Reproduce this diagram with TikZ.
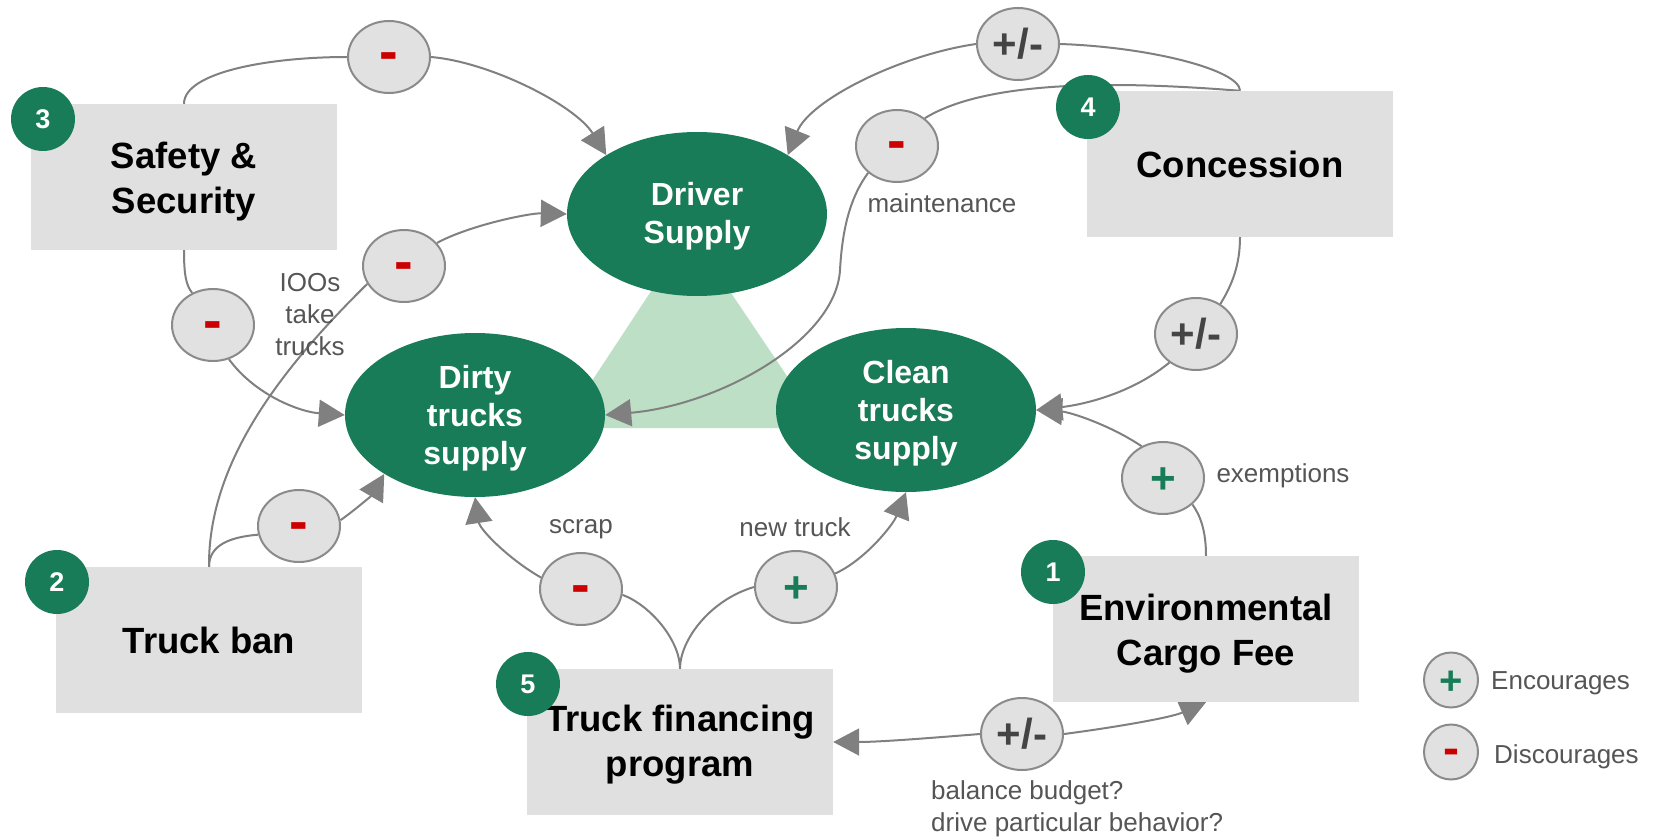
\documentclass[tikz,border=0pt]{standalone}
\usepackage{fontspec}
\setmainfont{Liberation Sans}
\usetikzlibrary{shapes.geometric,arrows.meta}
\definecolor{dgreen}{RGB}{24,124,88}
\definecolor{lgreen}{RGB}{189,223,198}
\definecolor{boxgray}{RGB}{224,224,224}
\definecolor{cfill}{RGB}{225,225,225}
\definecolor{cborder}{RGB}{138,138,138}
\definecolor{lgray}{RGB}{128,128,128}
\definecolor{sred}{RGB}{204,0,0}
\definecolor{pmgray}{RGB}{68,68,68}
\definecolor{lblgray}{RGB}{85,85,85}
\newcommand{\sgminus}[1]{\makebox[0pt]{\fontsize{#1}{#1}\selectfont\bfseries\color{sred}\raisebox{-0.25em}[0pt][0pt]{-}}}
\newcommand{\sgplus}[1]{\makebox[0pt]{\fontsize{#1}{#1}\selectfont\bfseries\color{dgreen}\raisebox{-0.36em}[0pt][0pt]{+}}}
\newcommand{\sgpm}[1]{\makebox[0pt]{\fontsize{#1}{#1}\selectfont\bfseries\color{pmgray}\raisebox{-0.35em}[0pt][0pt]{+/-}}}
\newcommand{\tallfirst}{\rule{0pt}{35pt}}
\pgfdeclarelayer{paper}
\pgfdeclarelayer{back}
\pgfdeclarelayer{lines}
\pgfsetlayers{paper,back,lines,main}
\begin{document}
\begin{tikzpicture}[x=1pt,y=-1pt,
  bigell/.style={ellipse, fill=dgreen, minimum width=260pt, minimum height=164pt, inner sep=0pt, text=white, font=\fontsize{32}{38}\selectfont\bfseries, align=center},
  policy/.style={rectangle, fill=boxgray, minimum width=306pt, minimum height=146pt, inner sep=0pt, font=\fontsize{36.5}{45}\selectfont\bfseries, align=center},
  badge/.style={circle, fill=dgreen, minimum size=64pt, inner sep=0pt, text=white, font=\fontsize{27}{30}\selectfont\bfseries},
  sign/.style={ellipse, fill=cfill, draw=cborder, line width=2pt, minimum width=82pt, minimum height=72pt, inner sep=0pt},
  lsign/.style={sign, minimum width=54pt, minimum height=55pt},
  lbl/.style={text=lblgray, font=\fontsize{26}{32}\selectfont, align=center, inner sep=0pt},
  link/.style={draw=lgray, line width=2pt},
  arr/.style={link, -{Triangle[length=26pt,width=27pt]}}
]
\begin{pgfonlayer}{paper}
\useasboundingbox[fill=white] (0,0) rectangle (1660,840);
\end{pgfonlayer}

% main ellipses
\node[bigell] (driver) at (697,214) {\rule{0pt}{28pt}Driver\\Supply};
\node[bigell] (dirty) at (475,415) {\rule{0pt}{29pt}Dirty\\trucks\\supply};
\node[bigell] (clean) at (906,410) {\rule{0pt}{29pt}Clean\\trucks\\supply};

% policy boxes
\node[policy] (safety) at (184,177) {\tallfirst Safety \&\\Security};
\node[policy] (concession) at (1240,164) {Concession};
\node[policy] (truckban) at (209,640) {Truck ban};
\node[policy] (finance) at (680,742) {\rule{0pt}{31pt}Truck financing\\program};
\node[policy] (env) at (1206,629) {\tallfirst Environmental\\Cargo Fee};

% badges
\node[badge] (b1) at (1053,572) {1};
\node[badge] (b2) at (57,582) {2};
\node[badge] (b3) at (43,119) {3};
\node[badge] (b4) at (1088,107) {4};
\node[badge] (b5) at (528,684) {5};

% sign circles
\node[sign] (sTop) at (389,57) {\sgminus{56}};
\node[sign] (sIOO) at (404,266) {\sgminus{56}};
\node[sign] (sSafe) at (213,325) {\sgminus{56}};
\node[sign] (sBan) at (299,526) {\sgminus{56}};
\node[sign] (sScrap) at (581,589) {\sgminus{56}};
\node[sign] (sNew) at (796,587) {\sgplus{44}};
\node[sign] (sPMtop) at (1018,44) {\sgpm{42}};
\node[sign] (sMaint) at (897,146) {\sgminus{56}};
\node[sign] (sPMright) at (1196,334) {\sgpm{42}};
\node[sign] (sExempt) at (1163,478) {\sgplus{44}};
\node[sign] (sPMbot) at (1022,734) {\sgpm{42}};

% legend
\node[lsign] (legPlus) at (1451,680) {\sgplus{40}};
\node[lsign] (legMinus) at (1451,752) {\sgminus{48}};
\node[lbl, anchor=west] (tEnc) at (1491,683) {Encourages};
\node[lbl, anchor=west] (tDis) at (1494,757) {Discourages};

% labels
\node[lbl] (tIOO) at (310,315) {IOOs\\take\\trucks};
\node[lbl] (tMaint) at (942,203) {maintenance};
\node[lbl] (tScrap) at (581,529) {scrap};
\node[lbl] (tNew) at (795,527) {new truck};
\node[lbl] (tExempt) at (1283,476) {exemptions};
\node[lbl, anchor=west, align=left] (tBudget) at (931,809) {balance budget?\\drive particular behavior?};

\begin{pgfonlayer}{back}
\fill[lgreen] (690,232) -- (561,428) -- (822,428) -- cycle;
\end{pgfonlayer}

\begin{pgfonlayer}{lines}
\draw[link] (safety.north) .. controls (184,72) and (270,57) .. (sTop.west);
\draw[arr] (sTop.east) .. controls (490,62) and (575,105) .. (driver.147);
\draw[link] (safety.south) .. controls (184,275) and (186,285) .. (sSafe.123);
\draw[arr] (sSafe.295) .. controls (255,395) and (300,412) .. (dirty.west);
\draw[link] (truckban.north) .. controls (208,460) and (285,365) .. (sIOO.206);
\draw[arr] (sIOO.35) .. controls (470,225) and (530,213) .. (driver.west);
\draw[link] (truckban.north) .. controls (209,545) and (230,537) .. (sBan.192);
\draw[arr] (sBan.8) .. controls (355,510) and (372,495) .. (dirty.213);
\draw[link] (finance.north) .. controls (680,640) and (650,605) .. (sScrap.352);
\draw[arr] (sScrap.164) .. controls (510,560) and (480,530) .. (dirty.south);
\draw[link] (finance.north) .. controls (680,640) and (710,600) .. (sNew.west);
\draw[arr] (sNew.19) .. controls (865,560) and (893,525) .. (clean.south);
\draw[link] (env.north) .. controls (1206,530) and (1200,515) .. (sExempt.318);
\draw[arr] (sExempt.124) .. controls (1110,425) and (1070,412) .. (clean.east);
\draw[link] (concession.south) .. controls (1240,265) and (1232,285) .. (sPMright.51);
\draw[arr] (sPMright.227) .. controls (1130,395) and (1080,405) .. (clean.east);
\draw[link] (concession.north) .. controls (1240,70) and (1150,47) .. (sPMtop.east);
\draw[arr] (sPMtop.west) .. controls (900,55) and (810,100) .. (driver.33);
\draw[link] (concession.north) .. controls (1130,82) and (990,78) .. (sMaint.45);
\coordinate (mbend) at (840,270);
\draw[arr] (sMaint.223) .. controls (848,200) and (842,235) .. (mbend) .. controls (836,340) and (720,405) .. (dirty.east);
\draw[arr] (sPMbot.west) .. controls (930,738) and (880,742) .. (finance.east);
\draw[arr] (sPMbot.east) .. controls (1110,728) and (1170,718) .. (env.south);
\end{pgfonlayer}
\end{tikzpicture}
\end{document}
